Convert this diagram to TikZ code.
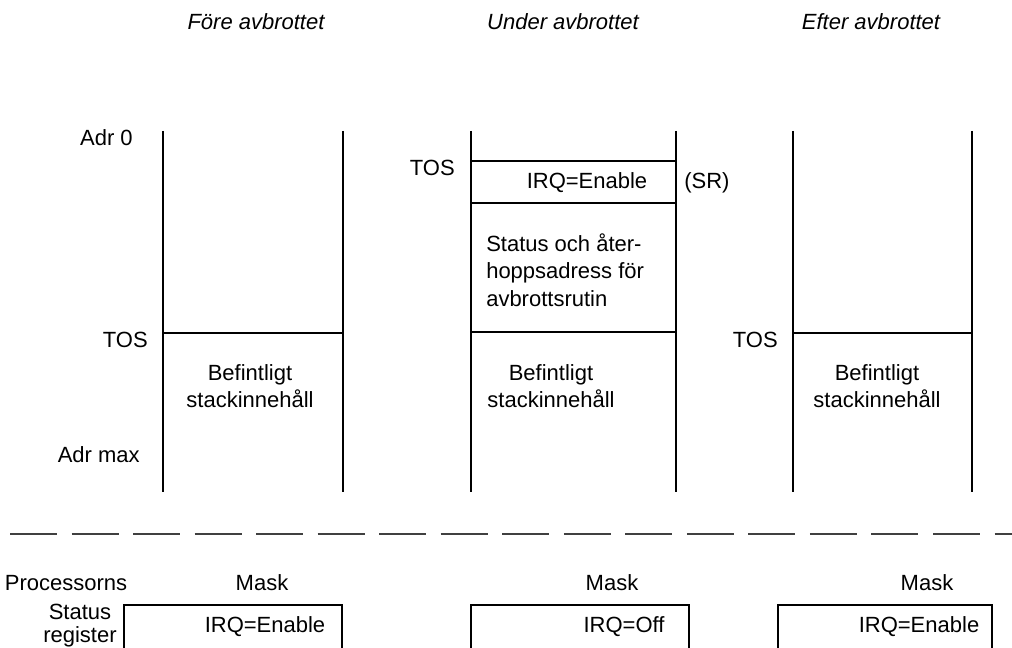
\documentclass[tikz,border=0pt]{standalone}
\usepackage{fontspec}
\setmainfont{Liberation Sans}
\usepackage{tikz}

\begin{document}
\begin{tikzpicture}[x=0.75pt, y=-0.75pt,
    txt/.style={inner sep=0pt, font=\fontsize{16.5}{20.5}\selectfont},
    head/.style={txt, font=\fontsize{16.5}{20.5}\selectfont\itshape},
    wall/.style={line width=1.9pt},
    regbox/.style={draw, line width=1.9pt}]
  \useasboundingbox (0,0) rectangle (1012,648);
  \clip (0,0) rectangle (1012,648);
  % rubriker
  \node[head] (fore)  at (256,22) {Före avbrottet};
  \node[head] (under) at (563,22) {Under avbrottet};
  \node[head] (efter) at (871,22) {Efter avbrottet};
  % stacken före
  \draw[wall] (163,131) -- (163,492);
  \draw[wall] (343,131) -- (343,492);
  \draw[wall] (163,333) -- (343,333);
  \node[txt,anchor=east] (adr0) at (133,138) {Adr 0};
  \node[txt,anchor=east] (tos1) at (148,340) {TOS};
  \node[txt,anchor=east] (adrmax) at (140,455) {Adr max};
  \node[txt,align=center] (bef1) at (250,386) {Befintligt\\stackinnehåll};
  % stacken under
  \draw[wall] (471,131) -- (471,492);
  \draw[wall] (676,131) -- (676,492);
  \draw[wall] (471,161) -- (676,161);
  \draw[wall] (471,203) -- (676,203);
  \draw[wall] (471,332) -- (676,332);
  \node[txt,anchor=east] (tos2) at (455,168) {TOS};
  \node[txt] (irq2) at (587,183) {IRQ=Enable};
  \node[txt,anchor=west] (sr) at (684,183) {(SR)};
  \node[txt,align=left,anchor=west] (ret) at (486,270)
    {Status och åter-\\hoppsadress för\\avbrottsrutin};
  \node[txt,align=center] (bef2) at (551,386) {Befintligt\\stackinnehåll};
  % stacken efter
  \draw[wall] (793,131) -- (793,492);
  \draw[wall] (972,131) -- (972,492);
  \draw[wall] (793,333) -- (972,333);
  \node[txt,anchor=east] (tos3) at (778,340) {TOS};
  \node[txt,align=center] (bef3) at (877,386) {Befintligt\\stackinnehåll};
  % skiljelinje
  \draw[black!75, line width=0.8pt, dash pattern=on 35.25pt off 10.9pt]
    (10,534) -- (1012,534);
  % statusregistret
  \node[txt] (proc) at (66,583) {Processorns};
  \node[txt] (stat) at (80,612) {Status};
  \node[txt] (reg)  at (80,637) {register};
  \node[txt] (mask1) at (262,583) {Mask};
  \node[txt] (mask2) at (612,583) {Mask};
  \node[txt] (mask3) at (927,583) {Mask};
  \draw[regbox] (124,605) rectangle (342,649);
  \draw[regbox] (471,605) rectangle (689,649);
  \draw[regbox] (778,605) rectangle (992,649);
  \node[txt] (sr1) at (265,627) {IRQ=Enable};
  \node[txt] (sr2) at (624,627) {IRQ=Off};
  \node[txt] (sr3) at (919,627) {IRQ=Enable};
\end{tikzpicture}
\end{document}
